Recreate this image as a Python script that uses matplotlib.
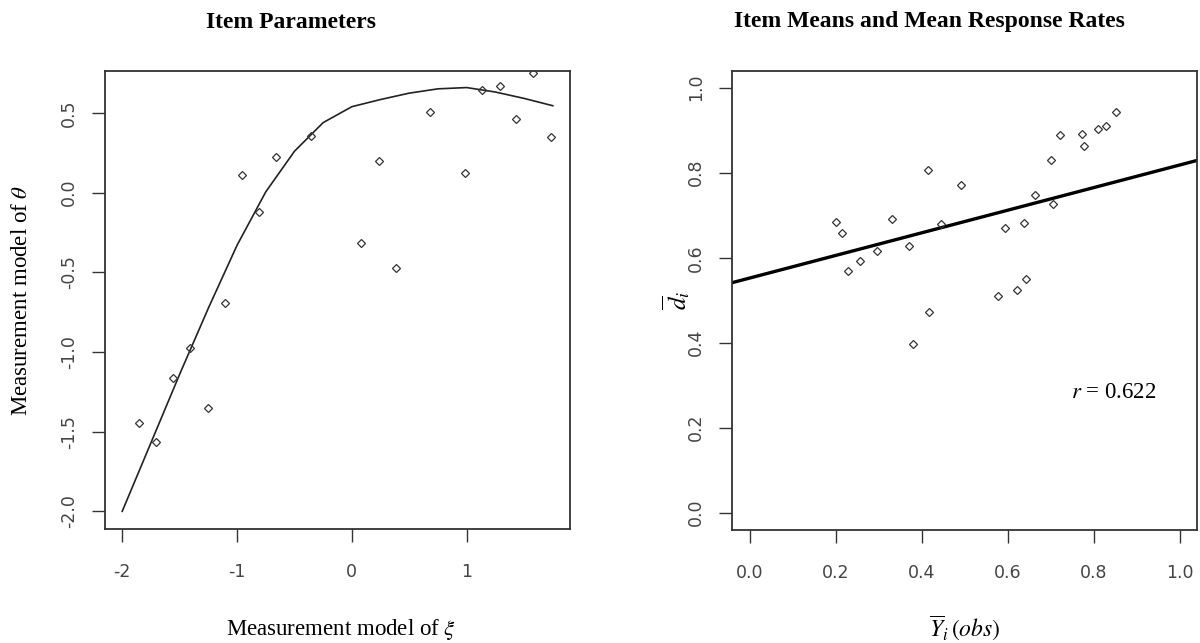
import matplotlib
matplotlib.use("Agg")
import matplotlib.pyplot as plt

plt.rcParams['font.family'] = ['Liberation Serif', 'DejaVu Serif']
plt.rcParams['mathtext.fontset'] = 'stix'
plt.rcParams['axes.unicode_minus'] = False

# ---- Item parameters: measurement model of xi vs theta ----
xi_items = [-1.857, -1.706, -1.561, -1.410, -1.257, -1.106, -0.955, -0.813, -0.663, -0.355,
            0.083, 0.236, 0.387, 0.683, 0.984, 1.135, 1.289, 1.428, 1.581, 1.732]
theta_items = [-1.444, -1.563, -1.161, -0.977, -1.352, -0.694, 0.113, -0.119, 0.224, 0.358,
               -0.318, 0.197, -0.475, 0.507, 0.122, 0.643, 0.672, 0.461, 0.753, 0.350]

# smoothed relation between the two measurement models
curve_xi = [-2.0, -1.75, -1.5, -1.25, -1.0, -0.75, -0.5, -0.25, 0.0,
            0.25, 0.5, 0.75, 1.0, 1.25, 1.5, 1.75]
curve_theta = [-2.00, -1.57, -1.14, -0.725, -0.33, 0.005, 0.26, 0.44, 0.54,
               0.585, 0.625, 0.652, 0.66, 0.632, 0.592, 0.546]

left_xticks = [-2, -1, 0, 1]
left_yticks = [-2.0, -1.5, -1.0, -0.5, 0.0, 0.5]

# ---- Item means vs mean response rates ----
item_means = [0.201, 0.215, 0.229, 0.256, 0.296, 0.331, 0.371, 0.381, 0.415, 0.418,
              0.445, 0.492, 0.577, 0.595, 0.621, 0.639, 0.642, 0.665, 0.702, 0.706,
              0.723, 0.774, 0.777, 0.811, 0.829, 0.853]
response_rates = [0.683, 0.658, 0.568, 0.593, 0.616, 0.692, 0.628, 0.398, 0.807, 0.472,
                  0.680, 0.772, 0.510, 0.669, 0.524, 0.682, 0.549, 0.748, 0.831, 0.727,
                  0.889, 0.892, 0.862, 0.902, 0.909, 0.944]
fit_intercept = 0.552
fit_slope = 0.266
r_value = 0.622

right_ticks = [0.0, 0.2, 0.4, 0.6, 0.8, 1.0]

W, H = 1200, 643
fig = plt.figure(figsize=(W / 100, H / 100), dpi=100)

SPINE = '#333333'
TICKLAB = '#444444'


def px_axes(x0, y0, x1, y1):
    return fig.add_axes([x0 / W, 1 - y1 / H, (x1 - x0) / W, (y1 - y0) / H])


def style(ax, xt, yt, xfmt, yfmt):
    for s in ax.spines.values():
        s.set_color(SPINE)
        s.set_linewidth(1.3)
    ax.set_xticks(xt)
    ax.set_yticks(yt)
    ax.set_xticklabels([xfmt % v for v in xt], fontfamily='DejaVu Sans',
                       fontsize=12.5, color=TICKLAB)
    ax.set_yticklabels([yfmt % v for v in yt], fontfamily='DejaVu Sans',
                       fontsize=12.5, color=TICKLAB, rotation=90, va='center')
    ax.tick_params(axis='both', direction='out', length=9.6, width=1.0, color=SPINE)
    ax.tick_params(axis='x', pad=15)
    ax.tick_params(axis='y', pad=10)


# left panel
ax1 = px_axes(105, 71, 570, 529)
ax1.plot(curve_xi, curve_theta, color='#222222', lw=1.2)
ax1.plot(xi_items, theta_items, linestyle='none', marker='D', ms=4.3,
         mfc='none', mec='#333333', mew=0.9)
ax1.set_xlim(-2.15, 1.90)
ax1.set_ylim(-2.111, 0.764)
style(ax1, left_xticks, left_yticks, '%d', '%.1f')

# right panel
ax2 = px_axes(732.3, 70.7, 1196.7, 529.7)
ax2.axline((0, fit_intercept), slope=fit_slope, color='black', lw=2.4)
ax2.plot(item_means, response_rates, linestyle='none', marker='D', ms=4.3,
         mfc='none', mec='#333333', mew=0.9)
ax2.set_xlim(-0.04, 1.04)
ax2.set_ylim(-0.04, 1.04)
style(ax2, right_ticks, right_ticks, '%.1f', '%.1f')
ax2.text(0.847, 0.284, '$r$ = %.3f' % r_value, ha='center', va='center', fontsize=16.5)

# titles and axis labels
fig.text(291 / W, 1 - 22 / H, 'Item Parameters', ha='center', va='center',
         fontsize=17, fontweight='bold')
fig.text(929 / W, 1 - 22 / H, 'Item Means and Mean Response Rates', ha='center',
         va='center', fontsize=17, fontweight='bold')
fig.text(341 / W, 1 - 630 / H, r'Measurement model of $\xi$', ha='center',
         va='center', fontsize=16.5)
fig.text(22 / W, 1 - 300 / H, r'Measurement model of $\theta$', ha='center',
         va='center', fontsize=16.5, rotation=90)
fig.text(964.5 / W, 1 - 628 / H, r'$\overline{Y}_i\,\left(obs\right)$', ha='center',
         va='center', fontsize=17)
fig.text(676 / W, 1 - 300 / H, r'$\overline{d}_i$', ha='center', va='center',
         fontsize=18, rotation=90)

fig.savefig('out.png', dpi=100)
